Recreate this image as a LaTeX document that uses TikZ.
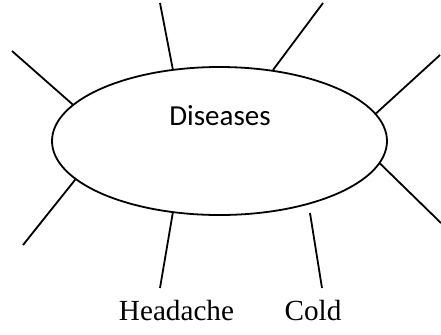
\documentclass[tikz,border=0pt]{standalone}
\usepackage{fontspec}
\setmainfont{Liberation Serif}
\newfontfamily\calibri{Carlito}
\usetikzlibrary{shapes.geometric}
\tikzset{
  spoke/.style={line width=0.9pt},
  leaf/.style={anchor=base, inner sep=0pt, font=\fontsize{14.6}{16}\selectfont}
}
\begin{document}
\begin{tikzpicture}[x=0.5pt, y=-0.5pt]
\useasboundingbox (0,0) rectangle (441,334);
\node[draw, ellipse, line width=0.9pt, minimum width=167.5pt, minimum height=74pt, inner sep=0pt] (dis) at (219.5,141) {};
\node[anchor=base, inner sep=0pt, font=\calibri\fontsize{14.5}{16}\selectfont] (distext) at (220,125) {Diseases};
\coordinate (tl) at (12,51);
\coordinate (t) at (160,3);
\coordinate (tr) at (323,3);
\coordinate (r) at (440,55);
\coordinate (br) at (441,223);
\coordinate (bl) at (23,245);
\coordinate (b) at (160,288);
\coordinate (c1) at (310,213);
\coordinate (c2) at (322,288);
\node[leaf] (head) at (176.5,320) {Headache};
\node[leaf] (cold) at (313,320) {Cold};
\draw[spoke] (dis.166.2) -- (tl);
\draw[spoke] (dis.123.8) -- (t);
\draw[spoke] (dis.53.5) -- (tr);
\draw[spoke] (dis.10.1) -- (r);
\draw[spoke] (dis.-8.6) -- (br);
\draw[spoke] (dis.-165.2) -- (bl);
\draw[spoke] (dis.-123.4) -- (b);
\draw[spoke] (c1) -- (c2);
\end{tikzpicture}
\end{document}
